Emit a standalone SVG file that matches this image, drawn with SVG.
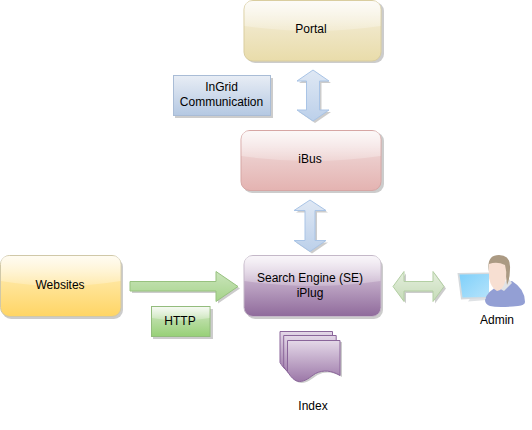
<svg xmlns="http://www.w3.org/2000/svg" xmlns:xlink="http://www.w3.org/1999/xlink" width="532" height="430" viewBox="0 0 532 430">
<style>
text{font-family:"Liberation Sans",Arial,sans-serif;font-size:12px;fill:#000;text-anchor:middle}
.sh{fill:#000;fill-opacity:.2}
.gl{fill:url(#gGloss)}
</style>
<defs>
<linearGradient id="gGloss" x1="0" y1="0" x2="0" y2="1"><stop offset="0" stop-color="#fff" stop-opacity=".75"/><stop offset="1" stop-color="#fff" stop-opacity=".2"/></linearGradient>
<linearGradient id="gPortal" x1="0" y1="0" x2="0" y2="1"><stop offset="0" stop-color="#f5f0e0"/><stop offset="1" stop-color="#e9dcaa"/></linearGradient>
<linearGradient id="gBus" x1="0" y1="0" x2="0" y2="1"><stop offset="0" stop-color="#f2e2e2"/><stop offset="1" stop-color="#e4b3b1"/></linearGradient>
<linearGradient id="gWeb" x1="0" y1="0" x2="0" y2="1"><stop offset="0" stop-color="#fff2c8"/><stop offset="1" stop-color="#ffd564"/></linearGradient>
<linearGradient id="gSE" x1="0" y1="0" x2="0" y2="1"><stop offset="0" stop-color="#e6d9e8"/><stop offset="1" stop-color="#8f6a9b"/></linearGradient>
<linearGradient id="gBlue" x1="0" y1="0" x2="0" y2="1"><stop offset="0" stop-color="#e8edf5"/><stop offset="1" stop-color="#b4c8e2"/></linearGradient>
<linearGradient id="gGreen" x1="0" y1="0" x2="0" y2="1"><stop offset="0" stop-color="#d5e8c8"/><stop offset="1" stop-color="#97d077"/></linearGradient>
<linearGradient id="gArrG" x1="0" y1="0" x2="0" y2="1"><stop offset="0" stop-color="#cbe4bc"/><stop offset="1" stop-color="#a5d48a"/></linearGradient>
<linearGradient id="gArrB" x1="0" y1="0" x2="0" y2="1"><stop offset="0" stop-color="#dfe8f4"/><stop offset="1" stop-color="#bcd0ea"/></linearGradient>
<linearGradient id="gArrL" x1="0" y1="0" x2="0" y2="1"><stop offset="0" stop-color="#e4eedd"/><stop offset="1" stop-color="#c6dcb8"/></linearGradient>
<linearGradient id="gDoc" x1="0" y1="0" x2="0" y2="1"><stop offset="0" stop-color="#e4d8e8"/><stop offset="1" stop-color="#9c78a8"/></linearGradient>
<linearGradient id="gScr" x1="0" y1="0" x2="1" y2="1"><stop offset="0" stop-color="#7fd0fa"/><stop offset="1" stop-color="#b5e3fb"/></linearGradient>
<path id="doc" d="M0 0H52.500V35C44 30 36 29 28 33C22 37 18 41 12 41C7 41 3 36 0 31Z"/>
</defs>

<g id="connectors">
<g id="arrow-portal-ibus">
<path class="sh" transform="translate(2,2)" d="M313 70L329 81H319.500V110H329L313 121L297 110H306.500V81H297Z"/>
<path fill="url(#gArrB)" stroke="#a9c4e6" d="M313 70L329 81H319.500V110H329L313 121L297 110H306.500V81H297Z"/>
</g>
<g id="arrow-ibus-se">
<path class="sh" transform="translate(2,2)" d="M310 200L326 210.500H315V240.500H326L310 251.500L294 240.500H305V210.500H294Z"/>
<path fill="url(#gArrB)" stroke="#a9c4e6" d="M310 200L326 210.500H315V240.500H326L310 251.500L294 240.500H305V210.500H294Z"/>
</g>
<g id="arrow-websites-se">
<path class="sh" transform="translate(2,2)" d="M130 281.500H216V271.500L238 286.500L216 301.500V291H130Z"/>
<path fill="url(#gArrG)" stroke="#97c27f" d="M130 281.500H216V271.500L238 286.500L216 301.500V291H130Z"/>
</g>
<g id="arrow-se-admin">
<path class="sh" transform="translate(2,2)" d="M393 286.500L404 271.500V281.500H433V271.500L444 286.500L433 301.500V291H404V301.500Z"/>
<path fill="url(#gArrL)" stroke="#b3cfa3" d="M393 286.500L404 271.500V281.500H433V271.500L444 286.500L433 301.500V291H404V301.500Z"/>
</g>
</g>

<g id="portal">
<rect class="sh" x="246" y="2" width="138" height="61" rx="9"/>
<rect x="244" y="0.500" width="137" height="60.500" rx="9" fill="url(#gPortal)" stroke="#d9cd9f"/>
<path class="gl" d="M244.500 9Q244.500 1 253 1H372Q380.500 1 380.500 9V26Q312 36 244.500 26Z"/>
<text x="311" y="33">Portal</text>
</g>

<g id="ibus">
<rect class="sh" x="243" y="132" width="141" height="61" rx="9"/>
<rect x="241" y="130.500" width="140" height="60" rx="9" fill="url(#gBus)" stroke="#d6a6a4"/>
<path class="gl" d="M241.500 139Q241.500 131 250 131H372Q380.500 131 380.500 139V156Q311 166 241.500 156Z"/>
<text x="310" y="163">iBus</text>
</g>

<g id="websites">
<rect class="sh" x="2" y="258" width="121" height="61" rx="9"/>
<rect x="0.500" y="255.500" width="120.500" height="61" rx="9" fill="url(#gWeb)" stroke="#d0c8a8"/>
<path class="gl" d="M1 264Q1 256 9 256H112Q120.500 256 120.500 264V281Q60 291 1 281Z"/>
<text x="60" y="289">Websites</text>
</g>

<g id="search-engine">
<rect class="sh" x="246" y="258" width="137" height="61" rx="9"/>
<rect x="244" y="255.500" width="137" height="61" rx="9" fill="url(#gSE)" stroke="#c4b8c8"/>
<path class="gl" d="M244.500 264Q244.500 256 253 256H372Q380.500 256 380.500 264V281Q312 291 244.500 281Z"/>
<text x="310" y="282">Search Engine (SE)</text>
<text x="310" y="297">iPlug</text>
</g>

<g id="ingrid-communication">
<rect class="sh" x="175" y="78" width="98" height="40"/>
<rect x="173.500" y="75.500" width="97" height="40" fill="url(#gBlue)" stroke="#a9bcd6"/>
<text x="221.500" y="91">InGrid</text>
<text x="221.500" y="106">Communication</text>
</g>

<g id="http">
<rect class="sh" x="153" y="309" width="60" height="30"/>
<rect x="151.500" y="306.500" width="58.500" height="30" fill="url(#gGreen)" stroke="#93bc7d"/>
<path class="gl" d="M152 307H209.500V318Q180 323 152 318Z"/>
<text x="180" y="325">HTTP</text>
</g>

<g id="index">
<use href="#doc" xlink:href="#doc" x="289.500" y="342" class="sh"/>
<use href="#doc" xlink:href="#doc" x="280" y="331.500" fill="url(#gDoc)" stroke="#8a659a"/>
<use href="#doc" xlink:href="#doc" x="283.700" y="335.500" fill="url(#gDoc)" stroke="#8a659a"/>
<use href="#doc" xlink:href="#doc" x="287.500" y="340.500" fill="url(#gDoc)" stroke="#8a659a"/>
<text x="313" y="410">Index</text>
</g>

<g id="admin">
<path fill="#dfe2e5" d="M468 301.500L487 300L482 296H472Z"/>
<path fill="#d6dadd" d="M457.500 273L489 272.500V298L461 299.500Z"/>
<path fill="url(#gScr)" d="M459.500 274.500L489 274V297L462.500 297.500Z"/>
<path fill="#939fd4" d="M485 300Q487 291 500 285L512 281Q525 289 525 302Q525 305 518 306Q498 308 490 306Q485 304 485 300Z"/>
<path fill="#e1e3e6" d="M497 287L504 291L512 283L509 279Z"/>
<path fill="#ab9a83" d="M489 272Q486 255 499 255Q511 255 510 269Q510 279 507 285L505 268L491 264Z"/>
<path fill="#f7dfd2" d="M489 264Q497 261 505 265Q507 272 506 279Q503 291 497 291Q491 288 489 278Z"/>
<text x="497" y="324">Admin</text>
</g>
</svg>
